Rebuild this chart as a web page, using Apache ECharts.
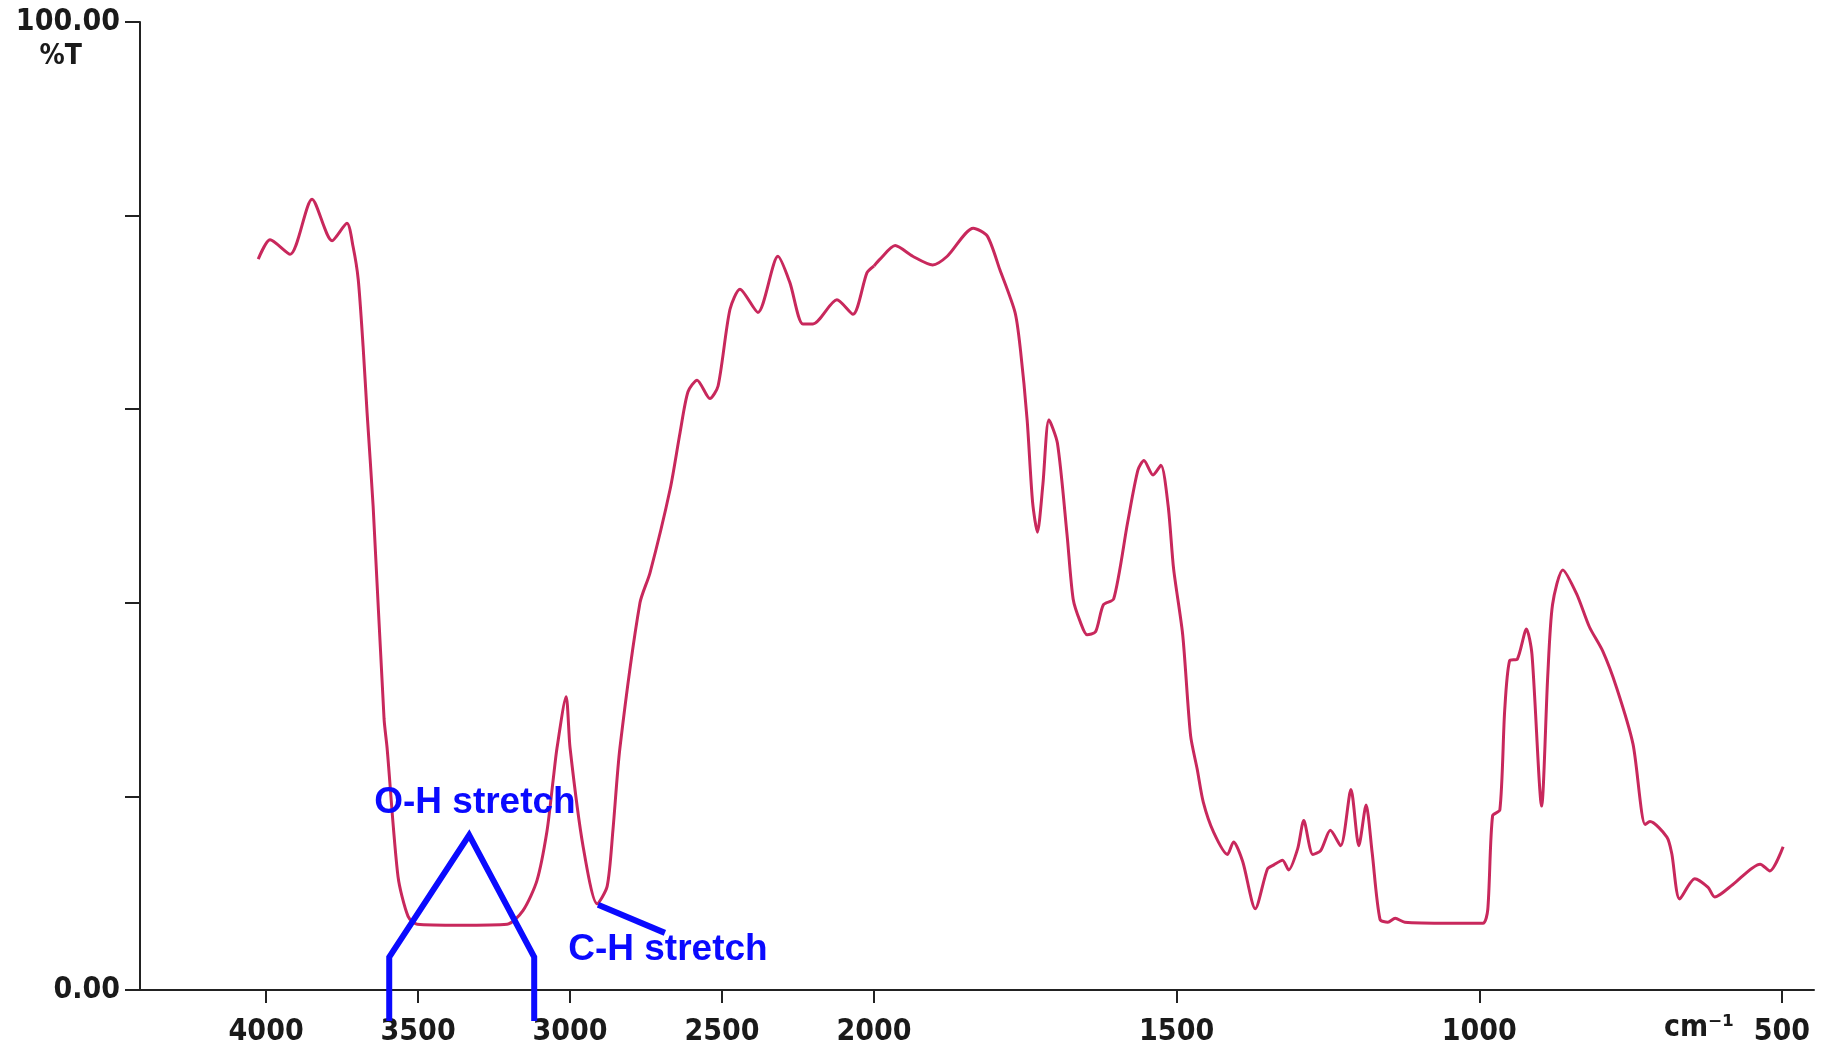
<!DOCTYPE html>
<html lang="en" style="height: 100%">
<head>
  <meta charset="utf-8">
</head>
<body style="height: 100%; margin: 0; background: #fff">
  <div id="container" style="height: 100%"></div>

  <script type="text/javascript" src="https://cdn.jsdelivr.net/npm/echarts@6/dist/echarts.min.js"></script>

  <script type="text/javascript">
    // IR spectrum, wavenumber (cm-1) vs transmittance (%T)
    var wavenumbers = [
      4026, 3987, 3921, 3849, 3783, 3734, 3714, 3697, 3681, 3668, 3648, 3612, 3602, 3566, 3533, 3503,
      3362, 3207, 3155, 3109, 3076, 3056, 3043, 3013, 3000, 2957, 2911, 2878, 2859, 2836, 2770, 2737,
      2671, 2638, 2612, 2582, 2540, 2513, 2474, 2441, 2382, 2316, 2277, 2234, 2201, 2122, 2069, 2023,
      2000, 1990, 1965, 1936, 1903, 1879, 1836, 1813, 1792, 1767, 1758, 1747, 1738, 1730, 1721, 1711,
      1697, 1681, 1671, 1659, 1648, 1634, 1621, 1604, 1581, 1564, 1554, 1539, 1526, 1514, 1505, 1490,
      1477, 1466, 1456, 1439, 1416, 1406, 1391, 1370, 1350, 1340, 1325, 1315, 1300, 1290, 1275, 1262,
      1246, 1229, 1212, 1199, 1187, 1177, 1164, 1151, 1139, 1123, 1049, 994, 986, 978, 966, 958,
      950, 937, 922, 913, 897, 887, 879, 862, 839, 818, 796, 773, 746, 726, 718, 690,
      682, 669, 644, 622, 611, 581, 536, 520, 498
    ];
    var transmittance = [
      75.5, 77.5, 76.0, 81.7, 77.4, 79.2, 76.8, 73.4, 66.5, 59.7, 50.0, 28.0, 25.0, 11.7, 7.6, 6.8,
      6.7, 6.8, 8.2, 11.3, 16.4, 21.6, 25.0, 30.3, 25.0, 14.8, 8.9, 10.7, 16.5, 25.0, 40.0, 43.1,
      51.7, 57.6, 61.8, 63.0, 61.1, 62.4, 70.3, 72.4, 70.0, 75.8, 73.1, 68.8, 68.8, 71.3, 69.8, 74.1,
      74.8, 75.5, 76.9, 75.8, 74.9, 75.8, 78.7, 77.9, 74.4, 70.0, 66.1, 58.9, 50.4, 47.3, 52.2, 58.9,
      56.5, 47.0, 40.4, 38.0, 36.7, 37.0, 39.8, 40.4, 48.3, 53.7, 54.7, 53.2, 54.2, 50.0, 43.5, 36.7,
      26.3, 22.8, 19.4, 16.3, 14.0, 15.3, 13.3, 8.4, 12.5, 12.9, 13.4, 12.4, 14.6, 17.5, 14.0, 14.4,
      16.5, 14.9, 20.7, 14.9, 19.1, 14.2, 7.3, 7.0, 7.4, 7.0, 6.9, 6.9, 8.3, 18.0, 18.6, 28.9,
      34.0, 34.2, 37.3, 34.7, 19.0, 32.3, 39.8, 43.4, 40.9, 37.5, 35.0, 31.2, 25.4, 17.1, 17.4, 15.8,
      14.1, 9.4, 11.5, 10.6, 9.6, 10.9, 13.0, 12.3, 14.8
    ];

    // the chart paper changes scale at 2000 cm-1
    var breakWavenumber = 2000;
    var highTicks = [4000, 3500, 3000, 2500, 2000];
    var lowTicks = [2000, 1500, 1000, 500];
    var lowLabels = [1500, 1000, 500];
    var yTicks = [0, 20, 40, 60, 80, 100];

    // annotations drawn on top (blue marker-pen)
    var ohBracket = [[3595, -3.2], [3595, 3.4], [3332, 16.0], [3118, 3.4], [3118, -3.2]];
    var chLeader = [[2908, 8.8], [2688, 5.9]];
    var noteLabels = [
      { name: 'O-H stretch', value: [3313, 19.3] },
      { name: 'C-H stretch', value: [2678, 4.2] }
    ];
    var unitLabel = { name: 'cm⁻¹', value: [637, -3.9] };

    var highPart = [];
    var lowPart = [];
    for (var i = 0; i < wavenumbers.length; i++) {
      if (wavenumbers[i] >= breakWavenumber) highPart.push([wavenumbers[i], transmittance[i]]);
      if (wavenumbers[i] <= breakWavenumber) lowPart.push([wavenumbers[i], transmittance[i]]);
    }

    var ink = '#222';
    var curveColor = '#c8285c';
    var blue = '#0a0aff';
    var tickFont = {
      fontFamily: "'DejaVu Sans Condensed', 'Liberation Mono', monospace",
      fontWeight: 'bold',
      fontSize: 30,
      color: '#1a1a1a'
    };
    var plain = function (v) { return String(v); };

    var dom = document.getElementById('container');
    var myChart = echarts.init(dom, null, {
      renderer: 'canvas',
      useDirtyRect: false
    });

    var option = {
      animation: false,
      backgroundColor: '#fff',
      grid: [
        { left: 140, top: 22, width: 734, bottom: 60 },
        { left: 874, top: 22, width: 940, bottom: 60 }
      ],
      xAxis: [
        {
          type: 'value',
          gridIndex: 0,
          inverse: true,
          min: 2000,
          max: 4415,
          splitLine: { show: false },
          axisLine: { lineStyle: { color: ink, width: 2 } },
          axisTick: { customValues: highTicks, length: 13, lineStyle: { color: ink, width: 2 } },
          axisLabel: Object.assign({ customValues: highTicks, margin: 27, formatter: plain }, tickFont)
        },
        {
          type: 'value',
          gridIndex: 1,
          inverse: true,
          min: 447,
          max: 2000,
          splitLine: { show: false },
          axisLine: { lineStyle: { color: ink, width: 2 } },
          axisTick: { customValues: lowTicks, length: 13, lineStyle: { color: ink, width: 2 } },
          axisLabel: Object.assign({ customValues: lowLabels, margin: 27, formatter: plain }, tickFont)
        }
      ],
      yAxis: [
        {
          type: 'value',
          gridIndex: 0,
          min: 0,
          max: 100,
          name: '%T',
          nameLocation: 'end',
          nameGap: -35,
          nameTextStyle: Object.assign({ align: 'right', verticalAlign: 'middle', padding: [0, 58, 0, 0] }, tickFont, { fontSize: 28 }),
          splitLine: { show: false },
          axisLine: { show: true, lineStyle: { color: ink, width: 2 } },
          axisTick: { show: true, customValues: yTicks, length: 15, lineStyle: { color: ink, width: 2 } },
          axisLabel: Object.assign({
            customValues: [0, 100],
            margin: 20,
            formatter: function (v) { return v.toFixed(2); }
          }, tickFont)
        },
        {
          type: 'value',
          gridIndex: 1,
          min: 0,
          max: 100,
          show: false
        }
      ],
      series: [
        {
          name: 'spectrum 4000-2000',
          type: 'line',
          xAxisIndex: 0,
          yAxisIndex: 0,
          data: highPart,
          symbol: 'none',
          smooth: 0.25,
          lineStyle: { color: curveColor, width: 3 },
          z: 2
        },
        {
          name: 'spectrum 2000-500',
          type: 'line',
          xAxisIndex: 1,
          yAxisIndex: 1,
          data: lowPart,
          symbol: 'none',
          smooth: 0.25,
          lineStyle: { color: curveColor, width: 3 },
          z: 2
        },
        {
          name: 'O-H bracket',
          type: 'line',
          xAxisIndex: 0,
          yAxisIndex: 0,
          data: ohBracket,
          symbol: 'none',
          clip: false,
          lineStyle: { color: blue, width: 6, join: 'miter' },
          z: 5
        },
        {
          name: 'C-H leader',
          type: 'line',
          xAxisIndex: 0,
          yAxisIndex: 0,
          data: chLeader,
          symbol: 'none',
          clip: false,
          lineStyle: { color: blue, width: 6 },
          z: 5
        },
        {
          name: 'notes',
          type: 'scatter',
          xAxisIndex: 0,
          yAxisIndex: 0,
          data: noteLabels,
          symbolSize: 0,
          clip: false,
          itemStyle: { opacity: 1 },
          label: {
            show: true,
            position: 'inside',
            formatter: '{b}',
            fontFamily: "'Liberation Sans', Arial, sans-serif",
            fontWeight: 'bold',
            fontSize: 37,
            color: blue
          },
          z: 6
        },
        {
          name: 'unit',
          type: 'scatter',
          xAxisIndex: 1,
          yAxisIndex: 1,
          data: [unitLabel],
          symbolSize: 0,
          clip: false,
          itemStyle: { opacity: 1 },
          label: Object.assign({ show: true, position: 'inside', formatter: '{b}' }, tickFont),
          z: 6
        }
      ]
    };

    if (option && typeof option === 'object') {
      myChart.setOption(option);
    }

    window.addEventListener('resize', myChart.resize);
  </script>
</body>
</html>
